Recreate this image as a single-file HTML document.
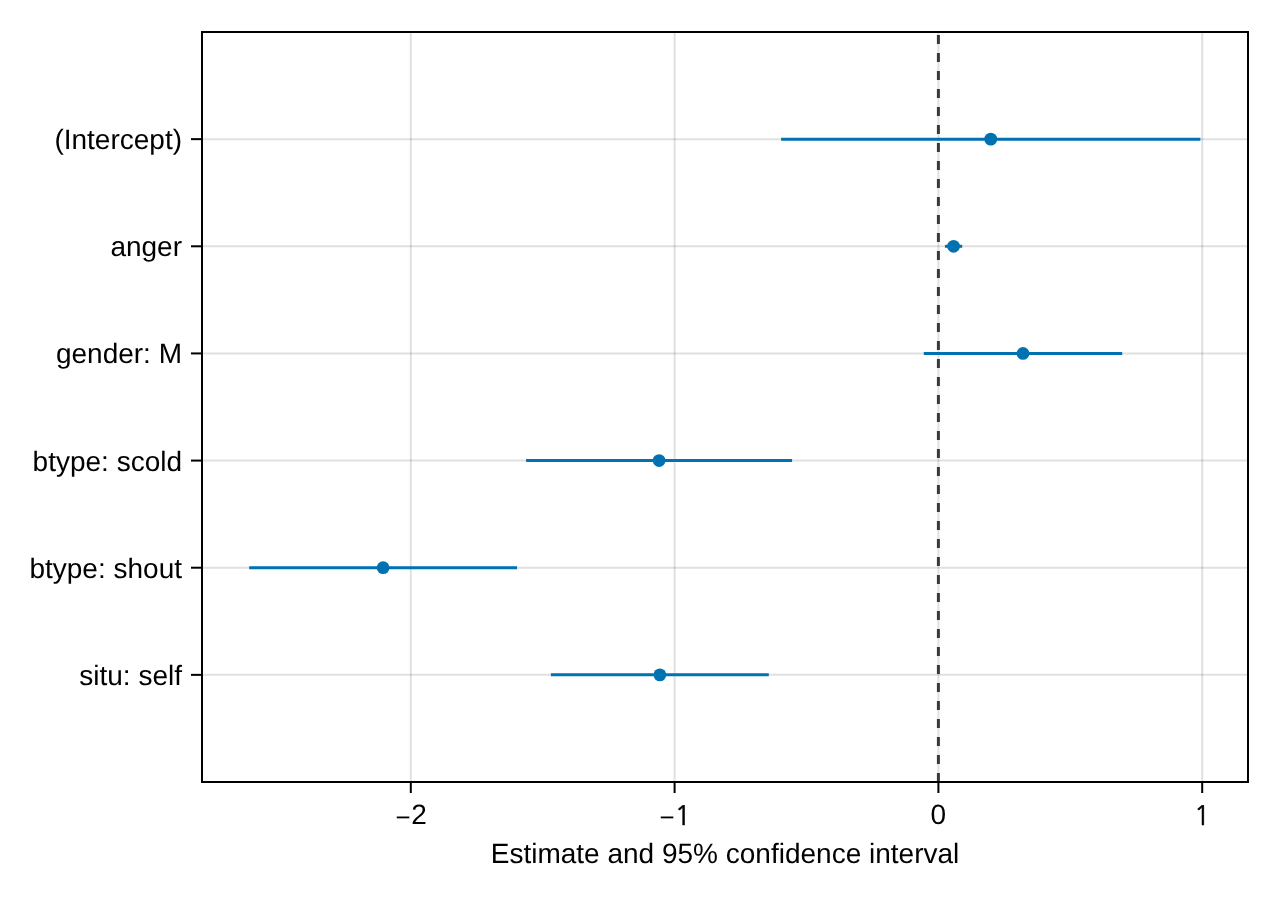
<!DOCTYPE html>
<html lang="en"><head><meta charset="utf-8"><title>Estimate and 95% confidence interval</title>
<style>html,body{margin:0;padding:0;background:#fff}body{width:1280px;height:900px;overflow:hidden}svg{display:block}text{text-rendering:geometricPrecision;font-family:"Liberation Sans",Arial,Helvetica,sans-serif;font-size:28px;fill:#000}.mn{font-size:25.8px}.one{font-family:NanumGothic,"Liberation Sans",sans-serif;font-size:26.7px;stroke:#000;stroke-width:0.5px}</style></head><body>
<svg width="1280" height="900" viewBox="0 0 1280 900">
<rect width="1280" height="900" fill="#fff"/>
<g stroke="#000" stroke-opacity="0.12" stroke-width="2" fill="none">
<line x1="410.80" y1="32" x2="410.80" y2="782"/>
<line x1="674.60" y1="32" x2="674.60" y2="782"/>
<line x1="938.40" y1="32" x2="938.40" y2="782"/>
<line x1="1202.20" y1="32" x2="1202.20" y2="782"/>
<line x1="202" y1="139.14" x2="1248" y2="139.14"/>
<line x1="202" y1="246.29" x2="1248" y2="246.29"/>
<line x1="202" y1="353.43" x2="1248" y2="353.43"/>
<line x1="202" y1="460.57" x2="1248" y2="460.57"/>
<line x1="202" y1="567.71" x2="1248" y2="567.71"/>
<line x1="202" y1="674.86" x2="1248" y2="674.86"/>
</g>
<line x1="938.4" y1="782" x2="938.4" y2="32" stroke="#393939" stroke-width="3" stroke-dasharray="9 9"/>
<g stroke="#0072B2" stroke-width="3" fill="#0072B2">
<line x1="781.1" y1="139.14" x2="1200.4" y2="139.14"/>
<line x1="944.95" y1="246.29" x2="962.2" y2="246.29"/>
<line x1="923.8" y1="353.43" x2="1122.2" y2="353.43"/>
<line x1="526.1" y1="460.57" x2="792.1" y2="460.57"/>
<line x1="249.2" y1="567.71" x2="517.05" y2="567.71"/>
<line x1="550.9" y1="674.86" x2="768.8" y2="674.86"/>
</g><g fill="#0072B2">
<circle cx="990.75" cy="139.14" r="6.4"/>
<circle cx="953.58" cy="246.29" r="6.4"/>
<circle cx="1023.00" cy="353.43" r="6.4"/>
<circle cx="659.10" cy="460.57" r="6.4"/>
<circle cx="383.12" cy="567.71" r="6.4"/>
<circle cx="659.85" cy="674.86" r="6.4"/>
</g>
<g stroke="#000" stroke-width="2" fill="none">
<line x1="410.80" y1="782" x2="410.80" y2="793"/>
<line x1="674.60" y1="782" x2="674.60" y2="793"/>
<line x1="938.40" y1="782" x2="938.40" y2="793"/>
<line x1="1202.20" y1="782" x2="1202.20" y2="793"/>
<line x1="191" y1="139.14" x2="202" y2="139.14"/>
<line x1="191" y1="246.29" x2="202" y2="246.29"/>
<line x1="191" y1="353.43" x2="202" y2="353.43"/>
<line x1="191" y1="460.57" x2="202" y2="460.57"/>
<line x1="191" y1="567.71" x2="202" y2="567.71"/>
<line x1="191" y1="674.86" x2="202" y2="674.86"/>
<rect x="202" y="32" width="1046" height="750"/>
</g>
<text x="182" y="149.14" text-anchor="end">(Intercept)</text>
<text x="182" y="256.29" text-anchor="end">anger</text>
<text x="182" y="363.43" text-anchor="end">gender: M</text>
<text x="182" y="470.57" text-anchor="end">btype: scold</text>
<text x="182" y="577.71" text-anchor="end">btype: shout</text>
<text x="182" y="684.86" text-anchor="end">situ: self</text>
<text><tspan class="mn" x="395.60" y="826.00">−</tspan><tspan x="411.30" y="824.30">2</tspan></text>
<text><tspan class="mn" x="659.40" y="826.00">−</tspan><tspan class="one" x="674.80" y="824.50">1</tspan></text>
<text><tspan x="930.62" y="824.30">0</tspan></text>
<text><tspan class="one" x="1194.10" y="824.50">1</tspan></text>
<text x="725" y="863.1" text-anchor="middle">Estimate and 95% confidence interval</text>
</svg></body></html>
